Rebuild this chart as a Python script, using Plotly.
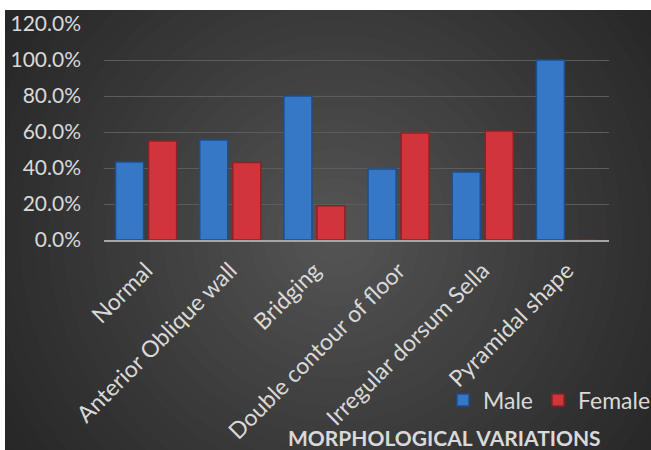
import plotly.graph_objects as go

# Morphological variations of the sella turcica by sex (share of cases)
categories = [
    "Normal",
    "Anterior Oblique wall",
    "Bridging",
    "Double contour of floor",
    "Irregular dorsum Sella",
    "Pyramidal shape",
]
male = [0.433, 0.556, 0.80, 0.394, 0.378, 1.00]
female = [0.55, 0.43, 0.19, 0.594, 0.606, 0.0]
y_ticks = [0, 0.2, 0.4, 0.6, 0.8, 1.0, 1.2]

W, H = 651, 450
ML, MR, MT, MB = 104, 42, 24, 210
PW, PH = W - ML - MR, H - MT - MB


def xp(px):
    return (px - ML) / PW


def yp(py):
    return (H - MB - py) / PH


FONT = "Lato, 'Open Sans', sans-serif"
TXT = "#d9d9d9"

fig = go.Figure()
fig.add_bar(
    name="Male", x=categories, y=male,
    marker=dict(color="#3677c6", line=dict(color="#1d4f8f", width=1.5)),
)
fig.add_bar(
    name="Female", x=categories, y=female,
    marker=dict(color="#d1343b", line=dict(color="#8f2025", width=1.5)),
)

# Dark background with a soft radial glow in the middle
shapes = [dict(type="rect", xref="paper", yref="paper", layer="below",
               x0=xp(5), x1=xp(W), y0=yp(10), y1=yp(H),
               fillcolor="#242424", line_width=0)]
cx, cy, R = 335, 235, 430
outer, inner = 36, 86
N = 30
for i in range(N):
    t = 1 - i / N
    r = R * t
    g = int(round(outer + (inner - outer) * (1 - t) ** 1.1))
    shapes.append(dict(type="circle", xref="paper", yref="paper", layer="below",
                       x0=xp(cx - r), x1=xp(cx + r), y0=yp(cy + r), y1=yp(cy - r),
                       fillcolor=f"rgb({g},{g},{g})", line_width=0))
# white page margin at top and left
shapes.append(dict(type="rect", xref="paper", yref="paper", layer="above",
                   x0=xp(-20), x1=xp(W + 20), y0=yp(-20), y1=yp(10),
                   fillcolor="white", line_width=0))
shapes.append(dict(type="rect", xref="paper", yref="paper", layer="above",
                   x0=xp(-20), x1=xp(5), y0=yp(-20), y1=yp(H + 20),
                   fillcolor="white", line_width=0))

fig.update_layout(
    width=W, height=H,
    margin=dict(l=ML, r=MR, t=MT, b=MB, pad=0, autoexpand=False),
    paper_bgcolor="white",
    plot_bgcolor="rgba(0,0,0,0)",
    barmode="group",
    bargap=0.216,
    bargroupgap=0.15,
    shapes=shapes,
    font=dict(family=FONT, color=TXT, size=20),
    showlegend=True,
    legend=dict(orientation="h", x=xp(656), xanchor="right", y=yp(400), yanchor="middle",
                font=dict(size=23, color=TXT), bgcolor="rgba(0,0,0,0)",
                itemwidth=30, tracegroupgap=0),
    annotations=[dict(text="<b>MORPHOLOGICAL VARIATIONS</b>", xref="paper", yref="paper",
                      x=xp(444), y=yp(437), xanchor="center", yanchor="middle",
                      showarrow=False, font=dict(size=21, color=TXT, family=FONT))],
)
fig.update_xaxes(
    tickangle=-45, showgrid=False, showline=True, linecolor="#a6a6a6", linewidth=2,
    tickfont=dict(size=23, color=TXT), ticks="", ticklabelstandoff=6,
    automargin=False, fixedrange=True,
)
fig.update_yaxes(
    range=[0, 1.2], tickvals=y_ticks, tickformat=".1%",
    showgrid=True, gridcolor="#5c5c5c", gridwidth=1, zeroline=False,
    showline=False, ticks="", ticklabelstandoff=22,
    tickfont=dict(size=21, color=TXT), automargin=False, fixedrange=True,
)

fig.write_html("out.html")
